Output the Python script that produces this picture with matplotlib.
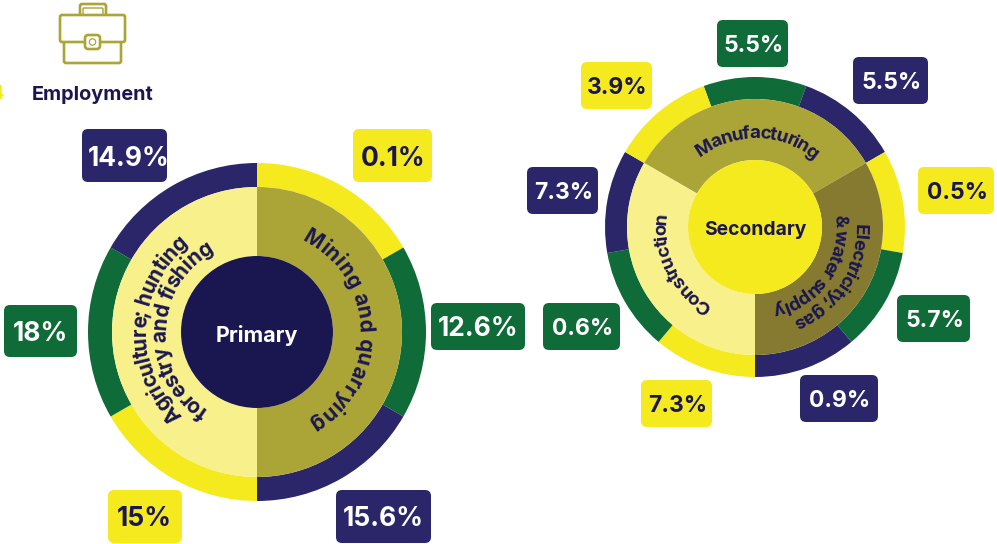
import numpy as np
import matplotlib
matplotlib.use("Agg")
import matplotlib.pyplot as plt
from matplotlib.patches import FancyBboxPatch, Circle
from matplotlib.font_manager import FontProperties, findfont, get_font
from matplotlib.ft2font import LoadFlags

# ---- data ----
title = "Employment"
primary_name = "Primary"
primary_sectors = ["Mining and quarrying", "Agriculture; hunting forestry and fishing"]
primary_values = [0.1, 12.6, 15.6, 15, 18, 14.9]
secondary_name = "Secondary"
secondary_sectors = ["Manufacturing", "Electricity; gas & water supply", "Construction"]
secondary_values = [5.5, 5.5, 0.5, 5.7, 0.9, 7.3, 0.6, 7.3, 3.9]

# ---- style ----
YEL = "#F5EA1E"; NAVY = "#2B2669"; DARK = "#1A1650"; GREEN = "#0F6B38"
OLIVE = "#ABA437"; PALE = "#F7F08B"; BROWN = "#857A30"
FAM = "Inter"
W, H = 997, 544

fig = plt.figure(figsize=(W/100, H/100), dpi=100, facecolor="white")
ax = fig.add_axes([0, 0, 1, 1])

def Y(py):
    return H - py

def donut(cx, cy, r_out, r_mid, r_in, outer_colors, mid_colors, start, core):
    c = (cx, Y(cy))
    wp = dict(linewidth=0)
    ax.pie(np.ones(len(outer_colors)), colors=outer_colors, center=c, radius=r_out,
           startangle=start, counterclock=False, frame=True,
           wedgeprops=dict(width=r_out-r_mid, **wp))
    ax.pie(np.ones(len(mid_colors)), colors=mid_colors, center=c, radius=r_mid,
           startangle=90 if len(mid_colors) == 2 else 150, counterclock=False, frame=True,
           wedgeprops=dict(width=r_mid-r_in, **wp))
    ax.add_patch(Circle(c, r_in, fc=core, ec="none"))

cycle_p = [YEL, GREEN, NAVY]
donut(257, 332, 169, 145, 76, [cycle_p[i % 3] for i in range(len(primary_values))],
      [OLIVE, PALE], 90, DARK)
cycle_s = [GREEN, NAVY, YEL]
donut(755, 227, 150, 128, 67, [cycle_s[i % 3] for i in range(len(secondary_values))],
      [OLIVE, BROWN, PALE], 110, YEL)

# ---- percentage chips: (x0, x1, y0, y1) in image pixels ----
def chip(value, box, color, size, tc, dx=0):
    x0, x1, y0, y1 = box
    r = 6
    ax.add_patch(FancyBboxPatch((x0+r, Y(y1)+r), x1-x0-2*r, y1-y0-2*r,
                                boxstyle=f"round,pad={r},rounding_size={r}",
                                fc=color, ec="none", zorder=3))
    ax.text((x0+x1)/2+dx, Y((y0+y1)/2), f"{value:g}%", ha="center", va="center_baseline",
            family=FAM, weight="bold", fontsize=size, color=tc, zorder=4)

p_boxes = [(353, 432, 129, 182), (431, 525, 303, 350), (336, 431, 490, 543),
           (108, 182, 490, 543), (4, 77, 305, 357), (82, 167, 129, 182)]
p_cols = [YEL, GREEN, NAVY, YEL, GREEN, NAVY]
p_text = [DARK, "white", "white", DARK, "white", "white"]
p_dx = [1, 0, 0, -0.5, 0, 4]
for v, b, c, t, d in zip(primary_values, p_boxes, p_cols, p_text, p_dx):
    chip(v, b, c, 19, t, d)

s_boxes = [(717, 788, 20, 67), (853, 928, 57, 104), (918, 994, 167, 214),
           (897, 970, 295, 342), (800, 878, 375, 422), (641, 712, 380, 427),
           (543, 620, 303, 350), (527, 598, 167, 214), (581, 652, 62, 109)]
s_cols = [GREEN, NAVY, YEL, GREEN, NAVY, YEL, GREEN, NAVY, YEL]
s_text = ["white", "white", DARK, "white", "white", DARK, "white", "white", DARK]
for v, b, c, t in zip(secondary_values, s_boxes, s_cols, s_text):
    chip(v, b, c, 16.5, t, 1)

# ---- curved labels ----
def arc_text(s, cx, cy, r, a0, a1, size, color=DARK):
    """Set s clockwise from a0 to a1 (degrees clockwise from 12 o'clock), baseline radius r."""
    fp = FontProperties(family=FAM, weight="bold", size=size)
    font = get_font(findfont(fp))
    font.set_size(size, 100)
    glyphs = [font.load_char(ord(ch), flags=LoadFlags.NO_HINTING) for ch in s]
    adv = np.array([g.linearHoriAdvance / 65536 for g in glyphs])
    ink = np.array([(g.horiBearingX + g.width/2) / 64 for g in glyphs])
    starts = np.cumsum(adv) - adv
    extra = (np.radians(a1 - a0) * r - adv.sum()) / max(len(s) - 1, 1)
    for i, ch in enumerate(s):
        if ch == " ":
            continue
        pos = starts[i] + ink[i] + extra*i
        ang = a0 + np.degrees(pos/r)
        th = np.radians(ang)
        ax.text(cx + r*np.sin(th), Y(cy - r*np.cos(th)), ch, rotation=-ang, rotation_mode="anchor",
                ha="center", va="baseline", fontproperties=fp, color=color, zorder=5)

arc_text("Mining and quarrying", 257, 332, 102, 26, 150, 15)
arc_text("Agriculture; hunting", 257, 332, 111, 222, 322, 15)
arc_text("forestry and fishing", 257, 332, 91, 212, 332, 15)
arc_text("Manufacturing", 755, 227, 89, -38, 41, 13.5)
arc_text("Electricity; gas", 755, 227, 100, 88, 158, 13.5)
arc_text("& water supply", 755, 227, 80, 81, 168, 13.5)
arc_text("Construction", 755, 227, 89, 209, 279, 13.5)

# ---- centre labels ----
ax.text(257, Y(335), primary_name, ha="center", va="center", family=FAM, weight="bold",
        fontsize=15.5, color="white", zorder=5)
ax.text(755, Y(230), secondary_name, ha="center", va="center", family=FAM, weight="bold",
        fontsize=13.9, color=DARK, zorder=5)
ax.text(93, Y(95), title, ha="center", va="center", family=FAM, weight="bold",
        fontsize=14.3, color=DARK, zorder=5)
ax.text(4, Y(94), "4", ha="right", va="center", family=FAM, weight="bold",
        fontsize=14.3, color=YEL, zorder=5)

# ---- briefcase icon ----
def rrect(x0, x1, y0, y1, r, lw=1.9, fc="white"):
    ax.add_patch(FancyBboxPatch((x0+r, Y(y1)+r), x1-x0-2*r, y1-y0-2*r,
                                boxstyle=f"round,pad={r},rounding_size={r}",
                                fc=fc, ec=OLIVE, lw=lw, zorder=6))
rrect(80, 106, 4, 20, 2)
rrect(83, 103, 8, 20, 1, lw=1.0)
rrect(64, 121, 30, 63, 2)
rrect(60, 125, 15, 42, 2)
rrect(85, 100, 35, 49, 3)
ax.add_patch(Circle((92.5, Y(42)), 3.2, fc="white", ec=OLIVE, lw=0.9, zorder=7))

ax.set_xlim(0, W)
ax.set_ylim(0, H)
ax.set_aspect("equal")
ax.axis("off")
fig.savefig("out.png", dpi=100, facecolor="white")
